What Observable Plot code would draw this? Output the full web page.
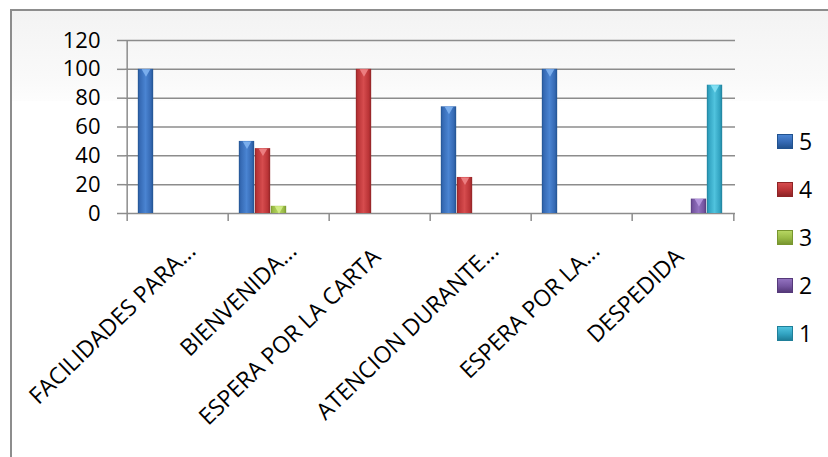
<!DOCTYPE html>
<html><head><meta charset="utf-8">
<script src="https://cdn.jsdelivr.net/npm/d3@7"></script>
<script src="https://cdn.jsdelivr.net/npm/@observablehq/plot@0.6"></script>
<style>
body{margin:0;background:#fff;}
#wrap{position:relative;width:828px;height:457px;font-family:"Open Sans",sans-serif;overflow:hidden;background:#fff}
#bg{position:absolute;left:12px;top:11px;width:816px;height:90px;background:linear-gradient(to bottom,#f3f3f3,#fafafa 80%,#fdfdfd)}
#border{position:absolute;left:10px;top:9px;width:840px;height:470px;border-top:2px solid #8d8d8d;border-left:2px solid #8d8d8d}
#chart{position:absolute;left:0;top:0}
#legend{position:absolute;left:777px;top:0;}
.item{position:absolute;left:0;height:26px;display:flex;align-items:center;white-space:nowrap}
.sw{width:16px;height:15px;margin-right:6px;box-sizing:border-box}
.lab{font-size:23px;color:#000;line-height:26px}
</style></head>
<body><div id="wrap"><div id="bg"></div><div id="border"></div><div id="chart"></div><div id="legend"></div></div>
<script>
const categories = ["FACILIDADES PARA...", "BIENVENIDA...", "ESPERA POR LA CARTA", "ATENCION DURANTE...", "ESPERA POR LA...", "DESPEDIDA"];
const seriesNames = ["5", "4", "3", "2", "1"];
const s5 = [100, 50, null, 74, 100, null];
const s4 = [null, 45, 100, 25, null, null];
const s3 = [null, 5, null, null, null, null];
const s2 = [null, null, null, null, null, 10];
const s1 = [null, null, null, null, null, 89];
const yTicks = [0, 20, 40, 60, 80, 100, 120];
// dark, mid, light per series
const seriesShades = [
  ["#21528f", "#3569b3", "#4a84d2"],
  ["#8e2426", "#b93336", "#d64c4e"],
  ["#78962f", "#98ba45", "#b6d662"],
  ["#55397a", "#7555a0", "#9272bf"],
  ["#1f7f99", "#31a2c0", "#50c3de"]
];
const capColors = ["#7fb2ef", "#ee8486", "#d4ee8a", "#b89ae0", "#86e2f5"];
const seriesValues = [s5, s4, s3, s2, s1];

const rows = [];
seriesNames.forEach((s, i) => categories.forEach((c, j) => {
  const v = seriesValues[i][j];
  if (v != null) rows.push({cat: c, series: s, si: i, value: v});
}));

const W = 828, H = 457, mL = 125, mR = 93, mT = 40, mB = 244;
const bw = (W - mL - mR) / categories.length;
const barW = 16;
const pad = (bw - barW * seriesNames.length) / 2;
const gridColor = "#8c8c8c";

const barMarks = seriesNames.flatMap((s, i) => {
  const data = rows.filter(d => d.series === s);
  return [
    Plot.barY(data, {
      x: "cat", y: "value", fill: "series",
      insetLeft: pad + i * barW, insetRight: bw - pad - (i + 1) * barW
    }),
    Plot.dot(data, {
      x: "cat", y: "value", symbol: "triangle", rotate: 180, r: 3.2,
      fill: capColors[i], fillOpacity: 0.9, stroke: "none",
      dx: -bw / 2 + pad + (i + 0.5) * barW, dy: 2.5
    })
  ];
});

const chart = Plot.plot({
  width: W, height: H,
  marginLeft: mL, marginRight: mR, marginTop: mT, marginBottom: mB,
  x: {type: "band", domain: categories, padding: 0, axis: null},
  y: {domain: [0, 120], axis: null},
  color: {domain: seriesNames, range: seriesNames.map(s => `url(#grad${s})`)},
  style: {fontFamily: "Open Sans", background: "transparent", overflow: "visible", color: "#000"},
  marks: [
    Plot.ruleY(yTicks, {stroke: gridColor, strokeWidth: 1.5}),
    Plot.ruleX(categories, {dx: -bw / 2, y1: 0, y2: -5.5, stroke: gridColor, strokeWidth: 1.5}),
    Plot.ruleX([categories[categories.length - 1]], {dx: bw / 2, y1: 0, y2: -5.5, stroke: gridColor, strokeWidth: 1.5}),
    Plot.ruleX([categories[0]], {dx: -bw / 2, y1: 0, y2: 120, stroke: gridColor, strokeWidth: 1.5}),
    ...barMarks,
    Plot.axisY({ticks: yTicks, label: null, tickSize: 8, tickPadding: 17, fontSize: 22, stroke: gridColor, strokeWidth: 1.5}),
    Plot.text(categories.filter(c => c.endsWith("...")), {
      x: d => d, frameAnchor: "bottom", rotate: -44, textAnchor: "end", lineAnchor: "bottom",
      dx: 19, dy: 39, fontSize: 23, fill: "#000"
    }),
    Plot.text(categories.filter(c => !c.endsWith("...")), {
      x: d => d, frameAnchor: "bottom", rotate: -44, textAnchor: "end", lineAnchor: "bottom",
      dx: 2, dy: 45, fontSize: 23, fill: "#000"
    })
  ]
});

// gradient definitions for the bevelled bars
const svg = d3.select(chart.tagName.toLowerCase() === "svg" ? chart : chart.querySelector("svg"));
const defs = svg.insert("defs", ":first-child");
seriesNames.forEach((s, i) => {
  const [dk, md, lt] = seriesShades[i];
  const g = defs.append("linearGradient").attr("id", `grad${s}`).attr("x1", 0).attr("x2", 1).attr("y1", 0).attr("y2", 0);
  [[0, dk], [0.12, md], [0.5, lt], [0.85, md], [1, dk]].forEach(([o, c]) =>
    g.append("stop").attr("offset", o).attr("stop-color", c));
});
document.getElementById("chart").appendChild(chart);

// legend
const legend = d3.select("#legend");
const legendTop = 128, legendStep = 48;
seriesNames.forEach((s, i) => {
  const [dk, md, lt] = seriesShades[i];
  const it = legend.append("div").attr("class", "item").style("top", `${legendTop + i * legendStep}px`);
  it.append("div").attr("class", "sw")
    .style("background", `linear-gradient(to bottom, ${lt}, ${md} 55%, ${dk})`)
    .style("border", `1px solid ${dk}`);
  it.append("span").attr("class", "lab").text(s);
});
</script>
</body></html>
